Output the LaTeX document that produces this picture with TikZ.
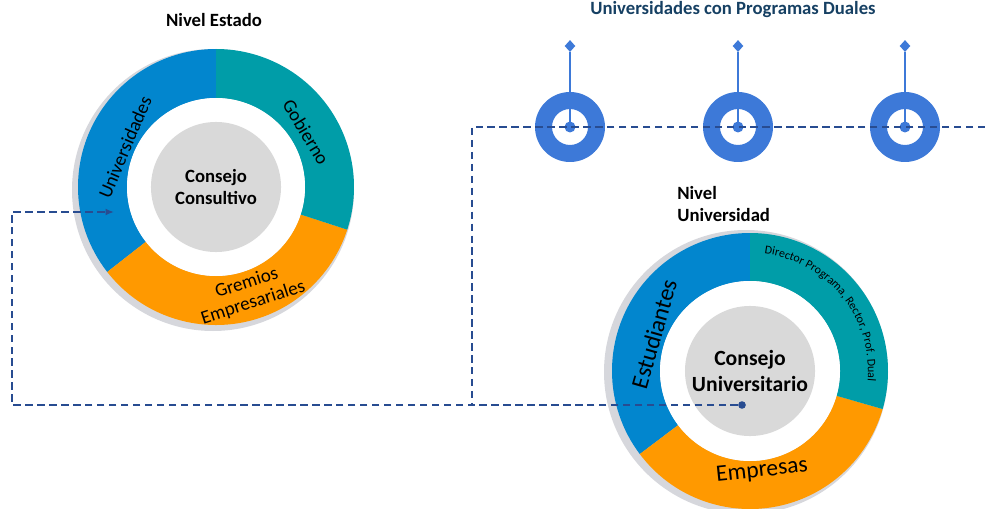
\documentclass[tikz,border=0pt]{standalone}
\usepackage{fontspec}
\setmainfont{Carlito}
\usetikzlibrary{arrows.meta,shapes.geometric,decorations.text}

\definecolor{ringblue}{RGB}{2,134,206}
\definecolor{ringteal}{RGB}{0,157,168}
\definecolor{ringorange}{RGB}{255,153,0}
\definecolor{discgray}{RGB}{217,217,217}
\definecolor{shadowgray}{RGB}{214,215,220}
\definecolor{pinblue}{RGB}{61,121,216}
\definecolor{dashblue}{RGB}{40,76,145}
\definecolor{titlenavy}{RGB}{22,64,99}

\begin{document}
\begin{tikzpicture}[
		x=0.025cm, y=0.025cm,
		disc/.style={circle, fill=discgray, minimum size=3.25cm, inner sep=0, align=center, font=\bfseries\fontsize{13.3}{15.6}\selectfont},
		seglabel/.style={inner sep=0, align=center, font=\fontsize{13.5}{15}\selectfont},
		heading/.style={inner sep=0, font=\bfseries\fontsize{13.3}{15.6}\selectfont},
		dashline/.style={dashblue, line width=1.4pt, dash pattern=on 5.3pt off 3.2pt},
	]
		\useasboundingbox (0,0) rectangle (985,508);

		\coordinate (est) at (216,321);
		\coordinate (uni) at (750,137);

		\fill[shadowgray] (213,318) circle[radius=141];
		\fill[shadowgray] (746,136) circle[radius=142];

		\foreach \a/\b/\c in {90/218/ringblue, 218/342/ringorange, -18/90/ringteal}
			\fill[\c] ([shift={(\a:138)}]est) arc[start angle=\a, end angle=\b, radius=138]
				-- ([shift={(\b:89)}]est) arc[start angle=\b, end angle=\a, radius=89] -- cycle;
		\foreach \a/\b/\c in {90/217/ringblue, 217/344/ringorange, -16/90/ringteal}
			\fill[\c] ([shift={(\a:138)}]uni) arc[start angle=\a, end angle=\b, radius=138]
				-- ([shift={(\b:90)}]uni) arc[start angle=\b, end angle=\a, radius=90] -- cycle;
		\fill[white] (est) circle[radius=89];
		\fill[white] (uni) circle[radius=90];

		\node (cc) [disc] at (est) {Consejo\\Consultivo};
		\node (cu) [disc, font=\bfseries\fontsize{15.4}{18.4}\selectfont] at (uni) {Consejo\\Universitario};

		\node (lu) [seglabel, rotate=67] at (125,361) {Universidades};
		\node (lg) [seglabel, rotate=-59] at (306,376) {Gobierno};
		\node (lge) [seglabel, rotate=18] at (250,215) {Gremios\\Empresariales};

		\node (le) [seglabel, font=\fontsize{17}{19}\selectfont, rotate=74] at (654,174) {Estudiantes};
		\node (lem) [seglabel, font=\fontsize{16.7}{19}\selectfont, rotate=6] at (762,37) {Empresas};
		\path[decorate, decoration={text along path, text align=center,
				text={|\fontsize{8.5}{10}\selectfont|Director Programa, Rector, Prof. Dual}}]
			([shift={(89:118)}]uni) arc[start angle=89, end angle=-11, radius=118];

		\node (ne) [heading] at (214,488) {Nivel Estado};
		\node (nu) [heading, anchor=west, align=left] at (677,304) {Nivel\\Universidad};
		\node (tit) [heading, text=titlenavy] at (733,498) {Universidades con Programas Duales};

		\foreach \x [count=\i] in {570,738,905} {
			\coordinate (pin\i) at (\x,381);
			\fill[pinblue, even odd rule] (pin\i) circle[radius=35] circle[radius=18];
			\node (top\i) [diamond, fill=pinblue, inner sep=0, minimum width=0.27cm, minimum height=0.3cm] at (\x,462) {};
			\draw[pinblue, line width=2.1pt] (pin\i) -- (top\i);
			\fill[pinblue] (pin\i) circle[radius=5.5];
		}

		\node (udot) [circle, fill=dashblue, inner sep=0, minimum size=0.19cm] at (742,103) {};
		\coordinate (corner) at (12,103);
		\coordinate (arr) at (114,296);
		\coordinate (tl) at (472,381);
		\coordinate (tr) at (985,381);
		\draw[dashline, -{Latex[length=6pt, width=5pt]}] (udot) -- (corner) |- (arr);
		\draw[dashline] (tr) -- (tl) -- (tl |- udot);
	\end{tikzpicture}
\end{document}
